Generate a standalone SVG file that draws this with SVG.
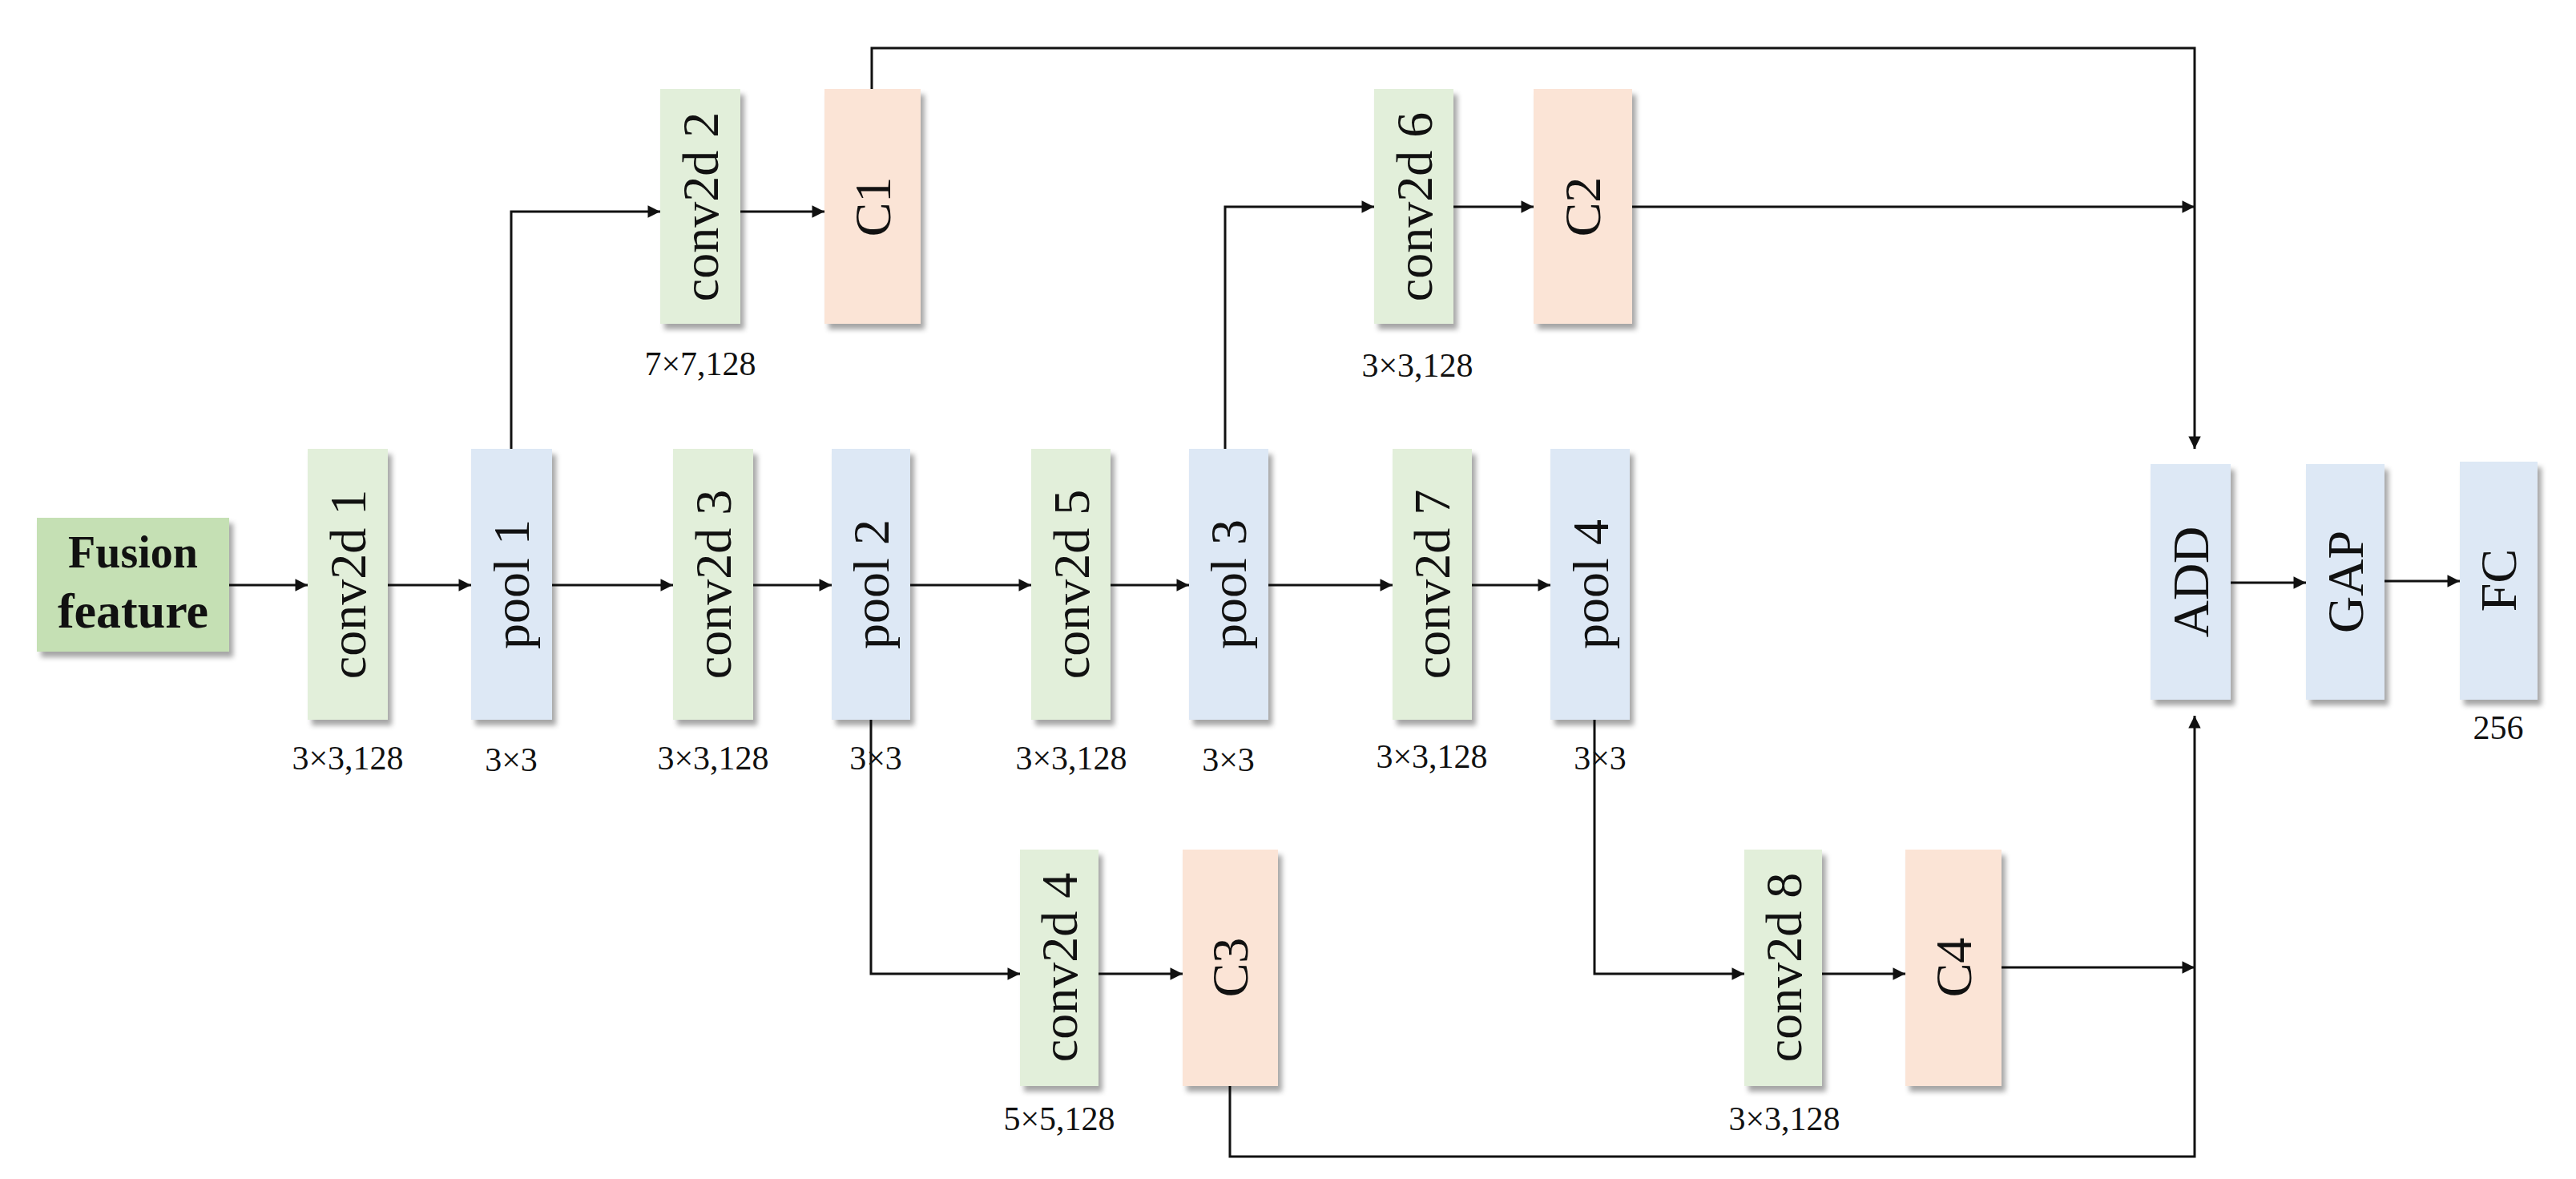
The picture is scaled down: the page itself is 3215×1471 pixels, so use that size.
<svg xmlns="http://www.w3.org/2000/svg" width="3215" height="1471" viewBox="0 0 3215 1471">
<style>
.g{fill:#e2efda}.b{fill:#dde8f5}.c{fill:#fbe4d6}.f{fill:#c5e0b4}
.n rect{filter:url(#sh)}
.t{font-family:"Liberation Serif","Times New Roman",serif;font-size:64px;fill:#111;text-anchor:middle;dominant-baseline:central}
.l{font-family:"Liberation Serif","Times New Roman",serif;font-size:42px;fill:#111;text-anchor:middle}
.e{fill:none;stroke:#111;stroke-width:3;marker-end:url(#a)}
.p{fill:none;stroke:#111;stroke-width:3}
</style>
<defs>
<filter id="sh" x="-20%" y="-10%" width="140%" height="130%"><feDropShadow dx="5" dy="7" stdDeviation="3" flood-color="#000" flood-opacity="0.35"/></filter>
<marker id="a" viewBox="0 0 10 10" refX="10" refY="5" markerWidth="7" markerHeight="7" orient="auto" markerUnits="userSpaceOnUse" style="overflow:visible"><path d="M0,0 L10,5 L0,10 Z" fill="#111" transform="scale(2.2) translate(-5.5,-2.75)"/></marker>
</defs>
<rect width="3215" height="1471" fill="#fff"/>
<g id="connectors">
<path class="e" d="M286,730 H384"/>
<path class="e" d="M484,730 H588"/>
<path class="e" d="M689,730 H840"/>
<path class="e" d="M940,730 H1038"/>
<path class="e" d="M1136,730 H1287"/>
<path class="e" d="M1386,730 H1484"/>
<path class="e" d="M1583,730 H1738"/>
<path class="e" d="M1837,730 H1935"/>
<path class="e" d="M638,560 V264 H824"/>
<path class="e" d="M924,264 H1029"/>
<path class="e" d="M1529,560 V258 H1715"/>
<path class="e" d="M1814,258 H1914"/>
<path class="e" d="M2037,258 H2739"/>
<path class="e" d="M1088,111 V60 H2739 V560"/>
<path class="e" d="M1087,898 V1215 H1273"/>
<path class="e" d="M1371,1215 H1476"/>
<path class="e" d="M1990,898 V1215 H2177"/>
<path class="e" d="M2274,1215 H2378"/>
<path class="e" d="M2498,1207 H2739"/>
<path class="e" d="M1535,1355 V1443 H2739 V893"/>
<path class="e" d="M2784,727 H2878"/>
<path class="e" d="M2976,725 H3070"/>
</g>
<g id="fusion" class="n"><rect class="f" x="46" y="646" width="240" height="167"/>
<text font-family="Liberation Serif,serif" font-weight="bold" font-size="56" text-anchor="middle" x="166" y="708" fill="#111">Fusion</text>
<text font-family="Liberation Serif,serif" font-weight="bold" font-size="62" text-anchor="middle" x="166" y="783" fill="#111">feature</text></g>
<g id="conv1" class="n"><rect class="g" x="384" y="560" width="100" height="338"/><text class="t" transform="translate(434,729) rotate(-90)">conv2d 1</text></g>
<g id="pool1" class="n"><rect class="b" x="588" y="560" width="101" height="338"/><text class="t" transform="translate(638,729) rotate(-90)">pool 1</text></g>
<g id="conv3" class="n"><rect class="g" x="840" y="560" width="100" height="338"/><text class="t" transform="translate(890,729) rotate(-90)">conv2d 3</text></g>
<g id="pool2" class="n"><rect class="b" x="1038" y="560" width="98" height="338"/><text class="t" transform="translate(1087,729) rotate(-90)">pool 2</text></g>
<g id="conv5" class="n"><rect class="g" x="1287" y="560" width="99" height="338"/><text class="t" transform="translate(1337,729) rotate(-90)">conv2d 5</text></g>
<g id="pool3" class="n"><rect class="b" x="1484" y="560" width="99" height="338"/><text class="t" transform="translate(1533,729) rotate(-90)">pool 3</text></g>
<g id="conv7" class="n"><rect class="g" x="1738" y="560" width="99" height="338"/><text class="t" transform="translate(1787,729) rotate(-90)">conv2d 7</text></g>
<g id="pool4" class="n"><rect class="b" x="1935" y="560" width="99" height="338"/><text class="t" transform="translate(1985,729) rotate(-90)">pool 4</text></g>
<g id="conv2" class="n"><rect class="g" x="824" y="111" width="100" height="293"/><text class="t" transform="translate(874,258) rotate(-90)">conv2d 2</text></g>
<g id="c1" class="n"><rect class="c" x="1029" y="111" width="120" height="293"/><text class="t" transform="translate(1089,258) rotate(-90)">C1</text></g>
<g id="conv6" class="n"><rect class="g" x="1715" y="111" width="99" height="293"/><text class="t" transform="translate(1765,258) rotate(-90)">conv2d 6</text></g>
<g id="c2" class="n"><rect class="c" x="1914" y="111" width="123" height="293"/><text class="t" transform="translate(1975,258) rotate(-90)">C2</text></g>
<g id="conv4" class="n"><rect class="g" x="1273" y="1060" width="98" height="295"/><text class="t" transform="translate(1322,1207) rotate(-90)">conv2d 4</text></g>
<g id="c3" class="n"><rect class="c" x="1476" y="1060" width="119" height="295"/><text class="t" transform="translate(1535,1207) rotate(-90)">C3</text></g>
<g id="conv8" class="n"><rect class="g" x="2177" y="1060" width="97" height="295"/><text class="t" transform="translate(2226,1207) rotate(-90)">conv2d 8</text></g>
<g id="c4" class="n"><rect class="c" x="2378" y="1060" width="120" height="295"/><text class="t" transform="translate(2438,1207) rotate(-90)">C4</text></g>
<g id="add" class="n"><rect class="b" x="2684" y="579" width="100" height="294"/><text class="t" transform="translate(2734,726) rotate(-90)">ADD</text></g>
<g id="gap" class="n"><rect class="b" x="2878" y="579" width="98" height="294"/><text class="t" transform="translate(2927,726) rotate(-90)">GAP</text></g>
<g id="fc" class="n"><rect class="b" x="3070" y="576" width="97" height="297"/><text class="t" transform="translate(3118,724) rotate(-90)">FC</text></g>
<g id="labels">
<text class="l" x="434" y="960">3×3,128</text>
<text class="l" x="638" y="962">3×3</text>
<text class="l" x="890" y="960">3×3,128</text>
<text class="l" x="1093" y="960" text-anchor="start">3×3</text>
<text class="l" x="1337" y="960">3×3,128</text>
<text class="l" x="1533" y="962">3×3</text>
<text class="l" x="1787" y="958">3×3,128</text>
<text class="l" x="1997" y="960" text-anchor="start">3×3</text>
<text class="l" x="874" y="468">7×7,128</text>
<text class="l" x="1769" y="470">3×3,128</text>
<text class="l" x="1322" y="1410">5×5,128</text>
<text class="l" x="2227" y="1410">3×3,128</text>
<text class="l" x="3118" y="922">256</text>
</g>
</svg>
